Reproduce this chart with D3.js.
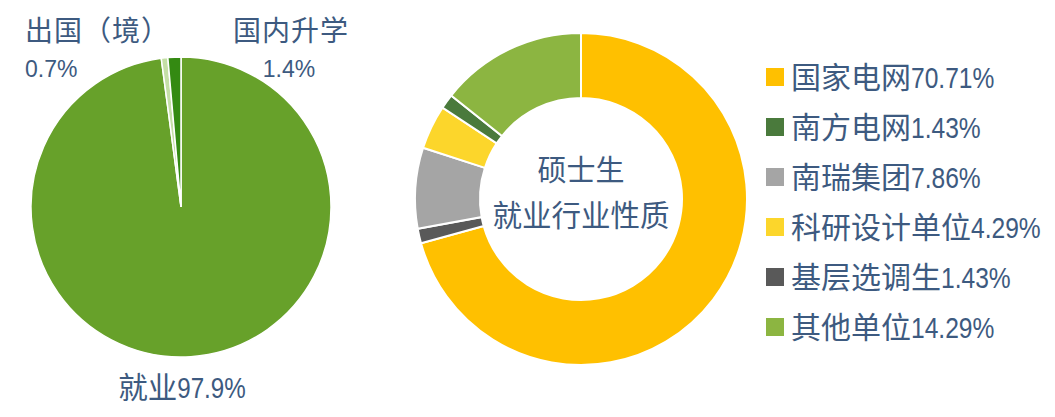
<!DOCTYPE html>
<html lang="zh">
<head>
    <meta charset="UTF-8">
    <title>硕士生就业去向与行业性质</title>
    <script src="https://d3js.org/d3.v7.min.js"></script>
    <style>
        body {
            margin: 0;
            padding: 0;
            background: #fff;
        }
        svg {
            display: block;
            font-family: "Liberation Sans", "Noto Sans CJK SC", sans-serif;
        }
        .lbl {
            fill: #3d5a80;
        }
    </style>
</head>
<body>
    <svg width="1055" height="417"></svg>

    <script>
        // 左侧饼图：毕业去向
        const pieNames = ["就业", "出国（境）", "国内升学"];
        const pieValues = [97.9, 0.7, 1.4];
        const pieColors = ["#67a12a", "#c4dfa6", "#348a12"];

        // 右侧环形图：行业性质（按图中顺时针顺序）
        const ringNames = ["国家电网", "基层选调生", "南瑞集团", "科研设计单位", "南方电网", "其他单位"];
        const ringValues = [70.71, 1.43, 7.86, 4.29, 1.43, 14.29];
        const ringColors = ["#ffc000", "#595959", "#a5a5a5", "#fcd62b", "#4a7a3c", "#8cb541"];

        // 图例顺序
        const legendNames = ["国家电网", "南方电网", "南瑞集团", "科研设计单位", "基层选调生", "其他单位"];

        const svg = d3.select("svg");
        const pct = d => d3.format(".2f")(d) + "%";

        // 中文 + 横向压窄的数字（原图数字偏窄）
        function nameNum(g, x, y, name, num, size, anchor) {
            const sx = 0.82;
            const a = g.append("text").attr("class", "lbl")
                .attr("font-size", size).text(name);
            const b = g.append("text").attr("class", "lbl")
                .attr("font-size", size).text(num);
            const wa = a.node().getComputedTextLength();
            const wb = b.node().getComputedTextLength() * sx;
            const x0 = anchor === "middle" ? x - (wa + wb) / 2 : x;
            a.attr("x", x0).attr("y", y);
            b.attr("transform", `translate(${x0 + wa},${y}) scale(${sx},1)`);
        }

        // ---- 饼图 ----
        const pieData = pieNames.map((n, i) => ({ name: n, value: pieValues[i] }));
        const pieLayout = d3.pie().sort(null).value(d => d.value);
        const pieArc = d3.arc().innerRadius(0).outerRadius(150);

        const gPie = svg.append("g").attr("transform", "translate(181,207)");
        gPie.selectAll("path")
            .data(pieLayout(pieData))
            .enter()
            .append("path")
            .attr("d", pieArc)
            .attr("fill", (d, i) => pieColors[i])
            .attr("stroke", "#fff")
            .attr("stroke-width", 1.5);

        // 饼图标签
        nameNum(svg, 182, 398, pieNames[0], pieValues[0] + "%", 29.5, "middle");

        svg.append("text").attr("class", "lbl")
            .attr("x", 25).attr("y", 41)
            .attr("font-size", 28)
            .attr("letter-spacing", 1)
            .text(pieNames[1]);
        svg.append("text").attr("class", "lbl")
            .attr("x", 25).attr("y", 77)
            .attr("font-size", 23)
            .text(pieValues[1] + "%");

        svg.append("text").attr("class", "lbl")
            .attr("x", 291).attr("y", 41)
            .attr("text-anchor", "middle")
            .attr("font-size", 28)
            .attr("letter-spacing", 1)
            .text(pieNames[2]);
        svg.append("text").attr("class", "lbl")
            .attr("x", 289).attr("y", 77)
            .attr("text-anchor", "middle")
            .attr("font-size", 23)
            .text(pieValues[2] + "%");

        // ---- 环形图 ----
        const ringData = ringNames.map((n, i) => ({ name: n, value: ringValues[i], color: ringColors[i] }));
        const ringArc = d3.arc().innerRadius(101).outerRadius(166);

        const gRing = svg.append("g").attr("transform", "translate(581,199)");
        gRing.selectAll("path")
            .data(pieLayout(ringData))
            .enter()
            .append("path")
            .attr("d", ringArc)
            .attr("fill", d => d.data.color)
            .attr("stroke", "#fff")
            .attr("stroke-width", 2);

        gRing.append("text").attr("class", "lbl")
            .attr("x", 0).attr("y", -18)
            .attr("text-anchor", "middle")
            .attr("font-size", 29)
            .text("硕士生");
        gRing.append("text").attr("class", "lbl")
            .attr("x", 0).attr("y", 27)
            .attr("text-anchor", "middle")
            .attr("font-size", 29.5)
            .text("就业行业性质");

        // ---- 图例 ----
        const y = d3.scalePoint()
            .domain(legendNames)
            .range([77, 327]);

        const legend = svg.append("g");
        const item = legend.selectAll("g")
            .data(legendNames.map(n => ringData.find(d => d.name === n)))
            .enter()
            .append("g")
            .attr("transform", d => `translate(766,${y(d.name)})`);

        item.append("rect")
            .attr("x", 0).attr("y", -9)
            .attr("width", 18).attr("height", 18)
            .attr("fill", d => d.color);

        item.each(function (d) {
            nameNum(d3.select(this), 25, 11, d.name, pct(d.value), 30, "start");
        });
    </script>
</body>
</html>
